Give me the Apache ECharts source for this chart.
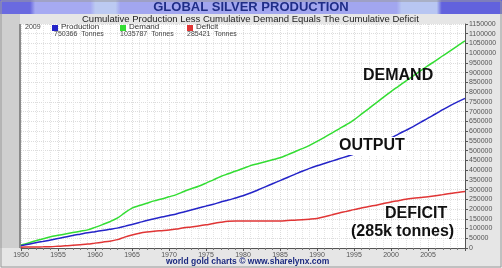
<!DOCTYPE html>
<html><head><meta charset="utf-8">
<script src="https://cdn.jsdelivr.net/npm/echarts@6/dist/echarts.min.js"></script>
<style>html,body{margin:0;padding:0;background:#e4e4e4}#c{width:502px;height:268px}</style>
</head><body><div id="c"></div>
<script>
var years = [];
for (var y = 1950; y <= 2010; y++) years.push(y);
var demand = [15000,26000,37000,47000,58000,65000,72000,79000,86000,93000,
106000,120000,135000,153000,180000,205000,218000,230000,242000,252000,
263000,274000,290000,304000,317000,333000,350000,367000,381000,395000,
408000,423000,433000,443000,453000,463000,478000,494000,510000,527000,
547000,568000,590000,612000,634000,658000,687000,716000,745000,775000,
803000,830000,857000,884000,910000,936000,961000,987000,1012000,1038000,1063000];
var production = [12000,19000,27000,34000,41000,49000,56000,64000,71000,78000,
84000,90000,96000,102000,111000,121000,131000,141000,150000,159000,
167000,175000,185000,195000,205000,215000,225000,236000,246000,257000,
268000,282000,298000,314000,330000,346000,362000,378000,394000,409000,
422000,434000,446000,458000,470000,482000,498000,515000,532000,548000,
565000,585000,604000,623000,645000,667000,688000,710000,731000,750000,768000];
var deficit = [4000,5000,5500,6000,7000,9000,11000,14000,17000,20000,
25000,30000,35000,43000,56000,67000,76000,82000,86000,89000,
92000,97000,104000,108000,113000,119000,126000,132000,137000,139000,
139000,138000,138000,138000,139000,139000,141000,143000,145000,148000,
152000,160000,170000,180000,188000,197000,205000,213000,220000,228000,
236000,243000,250000,255000,259000,263000,268000,274000,280000,285000,290000];
var legendYear = "2009";
var legendNames = ["Production","Demand","Deficit"];
var legendValues = ["750366  Tonnes","1035787  Tonnes","285421  Tonnes"];
var colors = ["#2424c8","#33dd33","#e03535"];

function pairs(arr){ return years.map(function(yr,i){ return [yr, arr[i]]; }); }
var FONT = "Liberation Sans, Arial, sans-serif";
var chart = echarts.init(document.getElementById('c'), null, {renderer:'canvas'});
var lg = [];
var lx = [52,120,187];
lg.push({type:'text', left:25, top:24, style:{text:legendYear, fill:'#444', font:'7px '+FONT}, z:10});
for (var i=0;i<3;i++){
  lg.push({type:'rect', shape:{x:lx[i], y:25, width:6, height:6}, style:{fill:colors[i]}, z:10});
  lg.push({type:'text', left:lx[i]+9, top:23, style:{text:legendNames[i], fill:'#333', font:'8px '+FONT}, z:10});
  lg.push({type:'text', left:lx[i]+(i==0?2:0), top:31, style:{text:legendValues[i], fill:'#444', font:'7px '+FONT}, z:10});
}
var option = {
  animation:false,
  backgroundColor:'#e6e6e6',
  grid:{left:21, right:37, top:24, bottom:20, show:true, backgroundColor:'#ffffff', borderWidth:0},
  xAxis:{type:'value', min:1950, max:2010, interval:5,
    axisLine:{show:true, onZero:false, lineStyle:{color:'#555', width:1}},
    axisTick:{show:true, length:3, lineStyle:{color:'#555'}},
    minorTick:{show:true, splitNumber:5, length:2, lineStyle:{color:'#777'}},
    minorSplitLine:{show:true, lineStyle:{color:'#e4e4e4', type:'dotted'}},
    splitLine:{show:true, lineStyle:{color:'#dcdcdc', type:'dotted'}},
    axisLabel:{color:'#555', fontSize:7, fontFamily:FONT, margin:4, showMaxLabel:false,
      formatter:function(v){return String(v);}}},
  yAxis:{type:'value', position:'right', min:0, max:1150000, interval:50000,
    axisLine:{show:true, lineStyle:{color:'#555', width:1}},
    axisTick:{show:true, length:3, lineStyle:{color:'#555'}},
    splitLine:{show:true, lineStyle:{color:'#dcdcdc', type:'dotted'}},
    axisLabel:{color:'#555', fontSize:7, fontFamily:FONT, margin:4,
      formatter:function(v){return String(v);}}},
  series:[
    {type:'line', name:'Demand', data:pairs(demand), showSymbol:false, smooth:0.3, lineStyle:{color:colors[1], width:1.5}, z:3},
    {type:'line', name:'Production', data:pairs(production), showSymbol:false, smooth:0.3, lineStyle:{color:colors[0], width:1.5}, z:3},
    {type:'line', name:'Deficit', data:pairs(deficit), showSymbol:false, smooth:0.3, lineStyle:{color:colors[2], width:1.5}, z:3}
  ],
  graphic:[
    {type:'rect', shape:{x:0,y:0,width:502,height:14}, z:0,
      style:{fill:new echarts.graphic.LinearGradient(0,0,1,0,[
        {offset:0,color:'#6a6ae0'},{offset:0.06,color:'#6a6ae0'},{offset:0.07,color:'#a6aaf2'},
        {offset:0.18,color:'#a6aaf2'},{offset:0.19,color:'#bccaf2'},{offset:0.23,color:'#bccaf2'},
        {offset:0.24,color:'#a2a6ef'},{offset:0.79,color:'#a2a6ef'},{offset:0.80,color:'#b8c6f2'},
        {offset:0.87,color:'#b8c6f2'},{offset:0.88,color:'#6262dd'},{offset:1,color:'#6262dd'}])}},
    {type:'rect', shape:{x:0,y:14,width:20,height:234}, z:0, style:{fill:'#cfcfcf'}},
    {type:'rect', shape:{x:19,y:24,width:2,height:224}, z:0, style:{fill:'#8a8a8a'}},
    {type:'rect', shape:{x:1,y:1,width:500,height:266}, z:0, style:{fill:'none', stroke:'#9a9a9a', lineWidth:1}},
    {type:'text', left:'center', top:1, style:{text:'GLOBAL SILVER PRODUCTION', fill:'#1f2d86', font:'bold 13px '+FONT}, z:10},
    {type:'text', left:82, top:14, style:{text:'Cumulative Production Less Cumulative Demand Equals The Cumulative Deficit', fill:'#222', font:'9.5px '+FONT}, z:10},
    {type:'text', left:363, top:68, style:{text:'DEMAND', fill:'#111', font:'bold 16px '+FONT}, z:10},
    {type:'text', left:337, top:137, style:{text:'OUTPUT', fill:'#111', font:'bold 16px '+FONT, backgroundColor:'#fff', padding:[1,2]}, z:10},
    {type:'text', left:385, top:206, style:{text:'DEFICIT', fill:'#111', font:'bold 16px '+FONT}, z:10},
    {type:'text', left:351, top:224, style:{text:'(285k tonnes)', fill:'#111', font:'bold 16px '+FONT}, z:10},
    {type:'text', left:166, top:257, style:{text:'world gold charts \u00a9 www.sharelynx.com', fill:'#1c2a80', font:'bold 8.5px '+FONT}, z:10}
  ].concat(lg)
};
chart.setOption(option);
</script></body></html>
